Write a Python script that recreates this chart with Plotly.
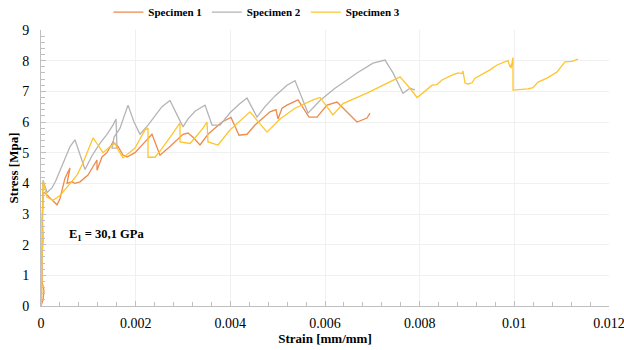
import plotly.graph_objects as go

# Specimen 1 (orange)
s1_strain = [0, 0.0000423, 0.0000634, 0.0000211, 0.0000211, 0.0000423, 0.0000317, 0.0000423, 0.0000423,
             0.0000845, 0.00019, 0.000338, 0.000401, 0.000444, 0.000507, 0.00057, 0.000613, 0.000549,
             0.000655, 0.000718, 0.000824, 0.000993, 0.001183, 0.001183, 0.001289, 0.001394, 0.001521,
             0.001627, 0.001732, 0.001817, 0.001986, 0.002197, 0.002345, 0.002514, 0.002725, 0.003,
             0.003106, 0.003211, 0.003359, 0.003528, 0.003676, 0.003824, 0.004014, 0.004183, 0.004352,
             0.004521, 0.00469, 0.004838, 0.004965, 0.005007, 0.005092, 0.005197, 0.00543, 0.005662,
             0.005831, 0.006042, 0.006254, 0.006676, 0.006887, 0.006951]
s1_stress = [0, 0.2, 0.5, 0.8, 1.5, 2.2, 2.8, 3.3, 3.7,
             3.68, 3.52, 3.3, 3.5, 3.8, 4.17, 4.37, 4.5, 4.0,
             4.05, 4.0, 4.05, 4.27, 4.76, 4.43, 4.86, 5.0, 5.35,
             5.2, 4.92, 4.86, 5.0, 5.35, 5.6, 4.92, 5.2, 5.6,
             5.64, 5.5, 5.25, 5.6, 5.8, 6.0, 6.15, 5.57, 5.6,
             5.9, 6.13, 6.33, 6.4, 6.1, 6.45, 6.55, 6.72, 6.16,
             6.16, 6.55, 6.65, 6.0, 6.13, 6.29]

# Specimen 2 (gray)
s2_strain = [0, 0.0000106, 0.0000211, 0.0000317, 0.0000423, 0.000127, 0.000232, 0.000317, 0.000401,
             0.000507, 0.000613, 0.000718, 0.00093, 0.001077, 0.001246, 0.001394, 0.001521, 0.001585,
             0.001606, 0.0015, 0.001542, 0.001669, 0.001754, 0.001838, 0.001965, 0.002092, 0.002261,
             0.002408, 0.002556, 0.002725, 0.003, 0.003106, 0.003254, 0.003465, 0.003613, 0.003782,
             0.003993, 0.004204, 0.004352, 0.004563, 0.004732, 0.004944, 0.005197, 0.005366, 0.005641,
             0.005894, 0.006211, 0.006465, 0.006676, 0.007014, 0.007268, 0.007437, 0.007648, 0.007796,
             0.007901]
s2_stress = [0, 1.0, 2.2, 3.2, 4.1, 3.7, 3.85, 4.1, 4.4,
             4.8, 5.2, 5.42, 4.45, 4.9, 5.3, 5.6, 5.9, 6.1,
             5.15, 5.15, 5.5, 5.8, 6.2, 6.55, 6.0, 5.6, 5.9,
             6.2, 6.5, 6.7, 5.84, 6.1, 6.35, 6.55, 5.9, 5.9,
             6.3, 6.6, 6.78, 6.16, 6.5, 6.85, 7.2, 7.35, 6.29,
             6.7, 7.1, 7.37, 7.6, 7.92, 8.02, 7.6, 6.94, 7.1,
             7.05]

# Specimen 3 (yellow)
s3_strain = [0, 0.0000211, 0.0000106, 0.0000317, 0.0000211, 0.0000423, 0.0000423, 0.0000634, 0.000127,
             0.000254, 0.000401, 0.00057, 0.000761, 0.000887, 0.001099, 0.001204, 0.00131, 0.001458,
             0.001563, 0.001627, 0.001732, 0.001986, 0.002197, 0.002261, 0.002261, 0.002408, 0.002514,
             0.002725, 0.002937, 0.002937, 0.003148, 0.003317, 0.003423, 0.003507, 0.003528, 0.003739,
             0.003993, 0.004415, 0.004775, 0.005049, 0.005366, 0.005746, 0.005894, 0.006169, 0.00638,
             0.006887, 0.007162, 0.007437, 0.007585, 0.007796, 0.007944, 0.00807, 0.008261, 0.008366,
             0.008472, 0.008683, 0.00881, 0.008894, 0.008915, 0.008958, 0.009021, 0.009106, 0.009169,
             0.009486, 0.009634, 0.009866, 0.009908, 0.009951, 0.00993, 0.009972, 0.009972, 0.010289,
             0.010394, 0.0105, 0.01069, 0.010901, 0.01107, 0.011218, 0.011345]
s3_stress = [0, 0.5, 1.2, 2.0, 2.8, 3.5, 4.05, 3.95, 3.55,
             3.45, 3.6, 3.9, 4.27, 4.66, 5.48, 5.25, 5.0, 5.2,
             5.3, 5.1, 4.83, 5.15, 5.74, 5.8, 4.85, 4.85, 5.05,
             5.5, 5.97, 5.35, 5.3, 5.6, 5.8, 6.0, 5.35, 5.25,
             5.74, 6.33, 5.67, 6.1, 6.45, 6.72, 6.8, 6.23, 6.6,
             6.94, 7.14, 7.35, 7.47, 7.1, 6.8, 6.95, 7.2, 7.22,
             7.37, 7.53, 7.6, 7.58, 7.66, 7.27, 7.24, 7.28, 7.43,
             7.7, 7.86, 8.0, 7.8, 7.9, 7.75, 8.1, 7.04, 7.08,
             7.12, 7.3, 7.43, 7.63, 7.96, 7.98, 8.05]

names = ["Specimen 1", "Specimen 2", "Specimen 3"]
colors = ["#EE8A4C", "#B4B4B4", "#FFC52E"]

x_ticks = [0, 0.002, 0.004, 0.006, 0.008, 0.01, 0.012]
x_tick_text = ["0", "0.002", "0.004", "0.006", "0.008", "0.01", "0.012"]
y_ticks = [0, 1, 2, 3, 4, 5, 6, 7, 8, 9]

serif = "Liberation Serif, Times New Roman, serif"

fig = go.Figure()
for xs, ys, nm, c in zip([s1_strain, s2_strain, s3_strain], [s1_stress, s2_stress, s3_stress], names, colors):
    fig.add_trace(go.Scatter(x=xs, y=ys, mode="lines", name="<b>" + nm + "</b>",
                             line=dict(color=c, width=1.3)))

axis_common = dict(showline=True, linecolor="#BFBFBF", linewidth=1,
                   ticks="inside", ticklen=5, tickcolor="#BFBFBF",
                   showgrid=True, gridcolor="#F0F0F0", gridwidth=1,
                   zeroline=False, mirror=False, automargin=False,
                   ticklabeloverflow="allow",
                   tickfont=dict(family=serif, size=14, color="#000000"))

fig.update_layout(
    width=624, height=350,
    margin=dict(l=41, r=15, t=30, b=44, autoexpand=False),
    paper_bgcolor="white", plot_bgcolor="white",
    showlegend=True,
    legend=dict(orientation="h", x=0.38, xanchor="center", y=1.065, yanchor="middle",
                font=dict(family=serif, size=11, color="#000000"),
                itemwidth=30, tracegroupgap=0, bgcolor="rgba(0,0,0,0)"),
    xaxis=dict(range=[0, 0.012], tickvals=x_ticks, ticktext=x_tick_text,
               minor=dict(ticks="inside", dtick=0.0004, ticklen=4, tickcolor="#BFBFBF", showgrid=False),
               ticklabelstandoff=4,
               title=dict(text="<b>Strain [mm/mm]</b>", font=dict(family=serif, size=13, color="#000000"), standoff=2),
               **axis_common),
    yaxis=dict(range=[0, 9], tickvals=y_ticks,
               minor=dict(ticks="inside", dtick=0.2, ticklen=4, tickcolor="#BFBFBF", showgrid=False),
               ticklabelstandoff=8,
               title=dict(text="<b>Stress [Mpa]</b>", font=dict(family=serif, size=13, color="#000000"), standoff=0),
               **axis_common),
)

fig.add_annotation(x=0.00055, y=2.3, xref="x", yref="y", xanchor="left", yanchor="middle",
                   text="<b>E<sub>1</sub> = 30,1 GPa</b>", showarrow=False,
                   font=dict(family=serif, size=12.5, color="#000000"))

fig.write_html("out.html", config={"displayModeBar": False},
               post_script="document.body.style.margin='0';document.body.style.overflow='hidden';")
